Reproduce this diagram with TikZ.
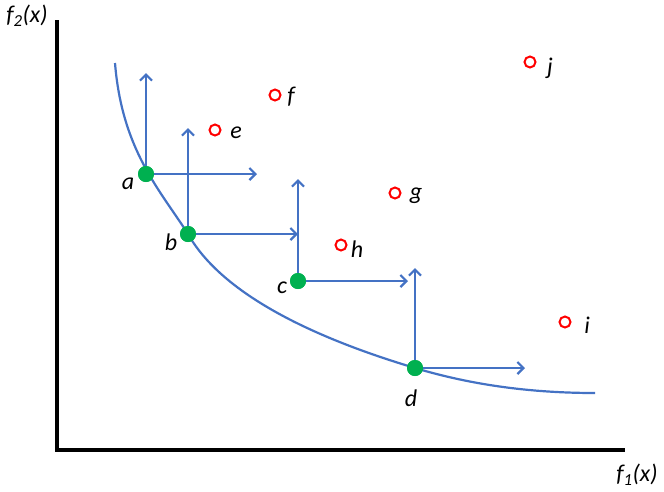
\documentclass[tikz,border=0pt]{standalone}
\usepackage{fontspec}
\setmainfont{Carlito}
\usetikzlibrary{arrows.meta}
\definecolor{frontblue}{HTML}{4472C4}
\definecolor{dotgreen}{HTML}{00B050}

\begin{document}
\begin{tikzpicture}[x=1pt, y=-1pt, font=\fontsize{24}{28}\selectfont\itshape,
  sol/.style={circle, fill=dotgreen, inner sep=0pt, minimum size=16pt},
  dom/.style={circle, draw=red, line width=2pt, inner sep=0pt, minimum size=11pt},
  dir/.style={frontblue, line width=2.2pt, -{Straight Barb[length=6pt, width=12pt]}}]
  \useasboundingbox (0,0) rectangle (664,491);

  % Axes
  \coordinate (origin) at (57,450);
  \coordinate (ytop) at (57,20);
  \coordinate (xend) at (625,450);
  \draw [line width=3.8pt] (ytop) -- (origin) -- (xend);
  \node (ylab) at (27,16) {f\textsubscript{2}(x)};
  \node (xlab) at (637,475) {f\textsubscript{1}(x)};

  % Front
  \draw [frontblue, line width=2.2pt] (115,63)
    .. controls (122,150) and (160,190) .. (188,234)
    .. controls (228,305) and (345,347) .. (415,368)
    .. controls (475,386) and (535,393) .. (595,393);

  % Nodes
  \node [sol] (a) at (146,174) {};
  \node [sol] (b) at (188,234) {};
  \node [sol] (c) at (298,281) {};
  \node [sol] (d) at (415,368) {};
  \node (la) at (128,184) {a};
  \node (lb) at (171,242) {b};
  \node (lc) at (282,288) {c};
  \node (ld) at (411,398) {d};

  \node [dom] (e) at (215,130) {};
  \node [dom] (f) at (275,95) {};
  \node [dom] (g) at (395,193) {};
  \node [dom] (h) at (341,245) {};
  \node [dom] (i) at (565,322) {};
  \node [dom] (j) at (530,62) {};
  \foreach \n/\lx/\ly in {e/236/133, f/291/97, g/416/196, h/357/249, i/587/325, j/550/68}
    \node (l\n) at (\lx,\ly) {\n};

  % Arrow ends
  \coordinate (aup) at (146,73);
  \coordinate (art) at (257,174);
  \coordinate (bup) at (188,128);
  \coordinate (brt) at (298,234);
  \coordinate (cup) at (298,179);
  \coordinate (crt) at (408,281);
  \coordinate (dup) at (415,268);
  \coordinate (drt) at (525,368);

  % Arrows
  \foreach \p in {a, b, c, d} {
    \draw [dir] (\p.center) -- (\p up);
    \draw [dir] (\p.center) -- (\p rt);
  }
  \foreach \p in {a, b, c, d}
    \node [sol] at (\p) {};
\end{tikzpicture}
\end{document}
